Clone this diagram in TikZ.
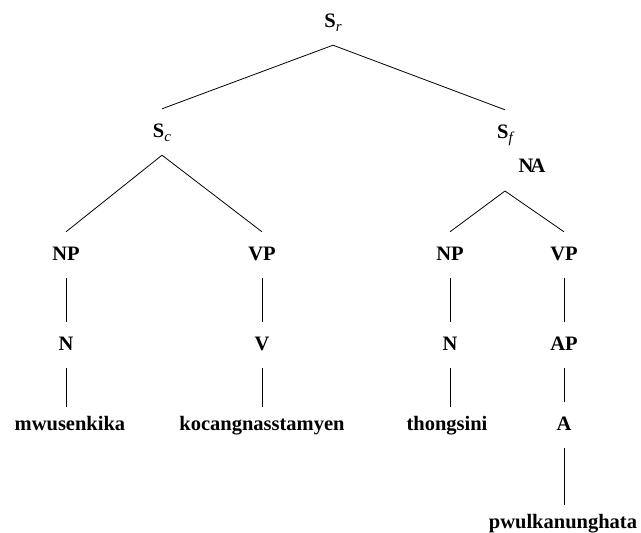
\documentclass[tikz,border=0pt]{standalone}
\usepackage{fontspec}
\setmainfont{Liberation Serif}[BoldFont={Liberation Serif Bold}, ItalicFont={Liberation Serif Italic}]
\usepackage{tikz}
\usetikzlibrary{positioning}
\newcommand{\catsub}[1]{\raisebox{-0.45ex}{\fontsize{15}{15}\selectfont\mdseries\itshape #1}}
\tikzset{
  cat/.style={anchor=base, font=\fontsize{20.5}{24}\selectfont\bfseries,
              text height=14pt, text depth=4pt, inner xsep=2pt, inner ysep=14pt},
  word/.style={cat, inner ysep=9pt},
  TL/.style={line width=0.8pt}
}
\begin{document}
\begin{tikzpicture}[x=1pt, y=-1pt]
\useasboundingbox (0,0) rectangle (641,533);

% Root and clauses
\node[cat] (Sr) at (333,27)  {S\catsub{r}};
\node[cat] (Sc) at (162,137) {S\catsub{c}};
\node[cat] (Sf) at (505,138) {S\catsub{f}};
\node[cat] (NA) at (532,172) {N\kern-3pt A};
\coordinate (NAtop) at (505,191);

% Phrases
\node[cat] (NPc) at (66,260)  {NP};
\node[cat] (VPc) at (262,260) {VP};
\node[cat] (NPf) at (450,260) {NP};
\node[cat] (VPf) at (564,260) {VP};

% Heads
\node[cat] (Nc) at (66,350)  {N};
\node[cat] (Vc) at (262,350) {V};
\node[cat] (Nf) at (450,350) {N};
\node[cat] (AP) at (564,350) {AP};
\node[cat] (Af) at (564,430) {A};

% Words
\node[word] (Wmw) at (70,430)  {mwusenkika};
\node[word] (Wko) at (262,430) {kocangnasstamyen};
\node[word] (Wth) at (447,430) {thongsini};
\node[word] (Wpw) at (563,528) {pwulkanunghata};

% -- branches --
\draw[TL] (Sr.south) -- (Sc.north);
\draw[TL] (Sr.south) -- (Sf.north);
\draw[TL] (Sc.south) -- (NPc.north);
\draw[TL] (Sc.south) -- (VPc.north);
\draw[TL] (NAtop) -- (NPf.north);
\draw[TL] (NAtop) -- (VPf.north);

% -- unary lines --
\draw[TL] (NPc) -- (Nc);
\draw[TL] (VPc) -- (Vc);
\draw[TL] (NPf) -- (Nf);
\draw[TL] (VPf) -- (AP);
\draw[TL] (Nc.south) -- (Nc.south |- Wmw.north);
\draw[TL] (Vc) -- (Wko);
\draw[TL] (Nf.south) -- (Nf.south |- Wth.north);
\draw[TL] (AP) -- (Af);
\draw[TL] (Af.south) -- (Af.south |- Wpw.north);

\end{tikzpicture}
\end{document}
